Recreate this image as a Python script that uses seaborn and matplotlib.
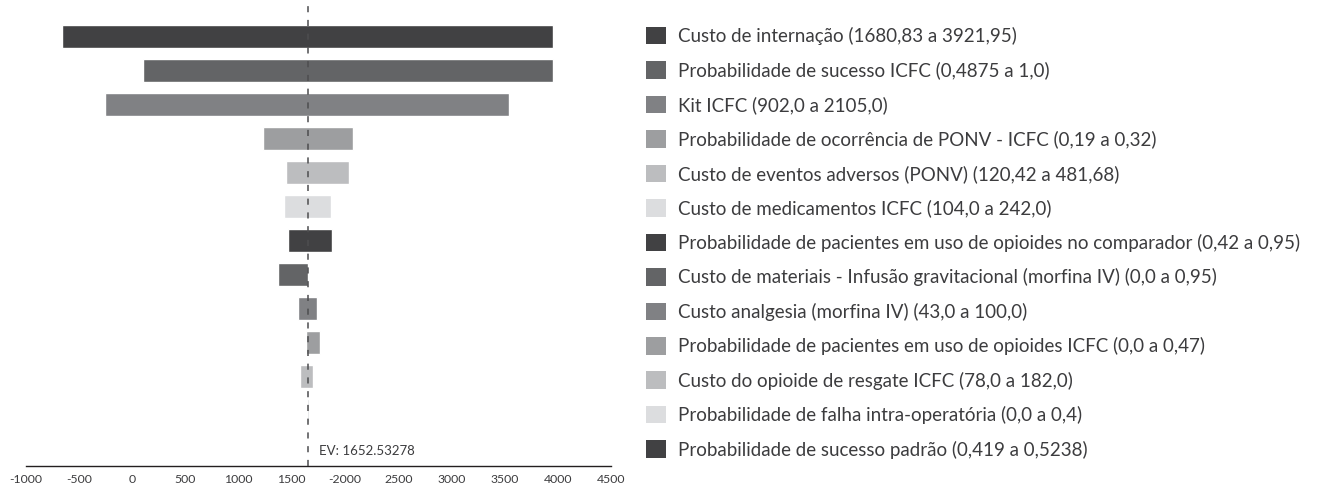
import matplotlib
matplotlib.use("Agg")
import matplotlib.pyplot as plt
from matplotlib.patches import Patch
import seaborn as sns
import pandas as pd

# parâmetros da análise de sensibilidade (ordem do tornado)
parametros = [
    'Custo de internação (1680,83 a 3921,95)',
    'Probabilidade de sucesso ICFC (0,4875 a 1,0)',
    'Kit ICFC (902,0 a 2105,0)',
    'Probabilidade de ocorrência de PONV - ICFC (0,19 a 0,32)',
    'Custo de eventos adversos (PONV) (120,42 a 481,68)',
    'Custo de medicamentos ICFC (104,0 a 242,0)',
    'Probabilidade de pacientes em uso de opioides no comparador (0,42 a 0,95)',
    'Custo de materiais - Infusão gravitacional (morfina IV) (0,0 a 0,95)',
    'Custo analgesia (morfina IV) (43,0 a 100,0)',
    'Probabilidade de pacientes em uso de opioides ICFC (0,0 a 0,47)',
    'Custo do opioide de resgate ICFC (78,0 a 182,0)',
    'Probabilidade de falha intra-operatória (0,0 a 0,4)',
    'Probabilidade de sucesso padrão (0,419 a 0,5238)',
]
baixo = [-658, 103, -254, 1229, 1444, 1426, 1465, 1371, 1559, 1635, 1578, 1645, 1652.5]
alto = [3956, 3956, 3540, 2076, 2039, 1868, 1879, 1652.5, 1738, 1765, 1701, 1662, 1652.5]
ev = 1652.53278

ticks = list(range(-1000, 4501, 500))
tick_labels = ['-1000', '-500', '0', '500', '1000', '1500', '-2000',
               '2500', '3000', '3500', '4000', '4500']

df = pd.DataFrame({'Parametro': parametros, 'Baixo': baixo, 'Alto': alto})
df['Amplitude'] = df['Alto'] - df['Baixo']

sns.set_theme(style='white')
plt.rcParams['font.family'] = ['Lato', 'DejaVu Sans']

cinzas = ['#414143', '#636466', '#808184', '#9d9ea0', '#bcbdbf', '#dcdddf']
cores = [cinzas[i % len(cinzas)] for i in range(len(df))]

fig = plt.figure(figsize=(13.31, 4.88), dpi=100)
ax = fig.add_axes([0.0193, 0.0457, 0.4398, 0.948])

ax.barh(range(len(df)), df['Amplitude'], left=df['Baixo'], height=0.667,
        color=cores, zorder=2)
ax.axvline(ev, color='#4d4d4f', lw=1.1, dashes=(4, 5), zorder=3)
ax.annotate(f'EV: {ev}', xy=(ev, 12.2), xytext=(8, 0), textcoords='offset points',
            va='center', ha='left', fontsize=9.5, color='#3c3c3e')

ax.set_xlim(-1000, 4500)
ax.set_ylim(12.63, -0.98)
ax.set_yticks([])
ax.set_xticks(ticks)
ax.set_xticklabels(tick_labels)
ax.tick_params(axis='x', direction='inout', length=6, width=1, color='#231f20',
               labelsize=8.8, labelcolor='#3c3c3e', pad=3)
sns.despine(ax=ax, left=True)
ax.spines['bottom'].set_color('#231f20')
ax.spines['bottom'].set_linewidth(1)

handles = [Patch(facecolor=c, edgecolor='none') for c in cores]
fig.legend(handles, parametros, loc='upper left', bbox_to_anchor=(0.4853, 0.945),
           frameon=False, fontsize=13.5, handlelength=1.06, handleheight=1.06,
           handletextpad=0.64, labelspacing=0.87, borderpad=0, borderaxespad=0,
           labelcolor='#3c3c3e')

fig.savefig('out.png', dpi=100)
